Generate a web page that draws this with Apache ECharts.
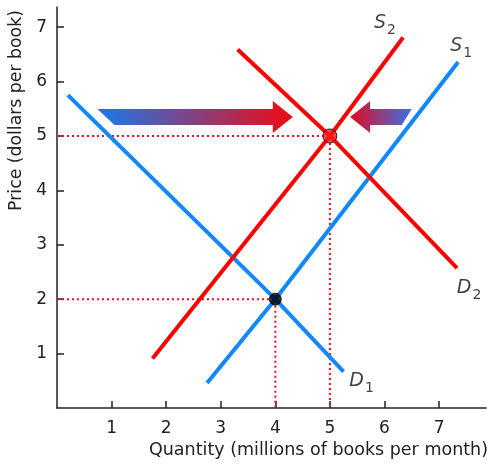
<!DOCTYPE html>
<html><head><meta charset="utf-8">
<script src="https://cdn.jsdelivr.net/npm/echarts@6/dist/echarts.min.js"></script>
<style>html,body{margin:0;padding:0;background:#fff}#c{width:487px;height:466px}</style>
</head><body><div id="c"></div>
<script>
// Data (x = millions of books per month, y = dollars per book)
const D1 = [[0.2, 5.75], [4, 2], [5.25, 0.67]];
const S1 = [[2.75, 0.46], [4, 2], [7.35, 6.36]];
const S2 = [[1.75, 0.91], [5, 5], [6.34, 6.81]];
const D2 = [[3.31, 6.59], [5, 5], [7.33, 2.57]];
const eqOld = [4, 2];
const eqNew = [5, 5];
// arrows: [tail x, tip x, y]
const arrowRight = [0.74, 4.32, 5.35];
const arrowLeft = [6.5, 5.37, 5.35];
const xTicks = [1, 2, 3, 4, 5, 6, 7];
const yTicks = [1, 2, 3, 4, 5, 6, 7];

const BLUE = '#1188ff', RED = '#ff0000';
const FONT = 'DejaVu Sans';
const chart = echarts.init(document.getElementById('c'));

function lineSeries(data, color) {
  return { type: 'line', data, symbol: 'none', lineStyle: { color, width: 4 }, z: 3, animation: false };
}
function guide(p) {
  return { type: 'line', data: [[0, p[1]], p, [p[0], 0]], symbol: 'none', z: 1, animation: false,
    lineStyle: { color: '#f01020', width: 2, type: [2, 3] } };
}
function subLabel(name, sub, pt, offset) {
  return { type: 'scatter', data: [pt], symbolSize: 0, z: 6, animation: false, silent: true,
    label: { show: true, position: 'inside', offset,
      formatter: '{m|' + name + '}{s|' + sub + '}',
      rich: { m: { fontFamily: FONT, fontStyle: 'italic', fontSize: 19, color: '#111' },
              s: { fontFamily: FONT, fontSize: 14, color: '#111', padding: [14, 0, 0, 1] } } } };
}
function arrowSeries(a, pointRight, stops) {
  return { type: 'custom', coordinateSystem: 'cartesian2d', z: 4, animation: false,
    data: [a], encode: { x: [0, 1], y: 2 },
    renderItem: function (params, api) {
      const t = api.coord([api.value(0), api.value(2)]);
      const h = api.coord([api.value(1), api.value(2)]);
      const yc = t[1], x0 = t[0], x1 = h[0];
      let pts;
      if (pointRight) {
        pts = [[x0, yc - 8], [x1 - 20, yc - 8], [x1 - 20, yc - 16], [x1, yc], [x1 - 20, yc + 16], [x1 - 20, yc + 8], [x0 + 17, yc + 8]];
      } else {
        pts = [[x1, yc], [x1 + 20, yc - 16], [x1 + 20, yc - 8], [x0, yc - 8], [x0 - 10, yc + 8], [x1 + 20, yc + 8], [x1 + 20, yc + 16]];
      }
      return { type: 'polygon', shape: { points: pts },
        style: { fill: new echarts.graphic.LinearGradient(0, 0, 1, 0, stops) } };
    } };
}

const axisCommon = {
  type: 'value', min: 0, interval: 1,
  axisLine: { show: true, lineStyle: { color: '#222', width: 1.5 } },
  axisTick: { show: true, inside: true, length: 7, lineStyle: { color: '#222', width: 1.5 } },
  splitLine: { show: false },
  axisLabel: { fontFamily: FONT, fontSize: 17, color: '#222', showMaxLabel: false, showMinLabel: false }
};

chart.setOption({
  animation: false,
  grid: { left: 57, top: 7, right: 1, bottom: 58, outerBoundsMode: 'none', containLabel: false },
  xAxis: Object.assign({}, axisCommon, {
    max: 7.86,
    name: 'Quantity (millions of books per month)', nameLocation: 'middle', nameGap: 33,
    nameTextStyle: { fontFamily: FONT, fontSize: 17.5, color: '#222', padding: [0, 0, 0, 94] },
    axisLabel: Object.assign({}, axisCommon.axisLabel, { margin: 12,
      formatter: v => xTicks.includes(v) ? String(v) : '' })
  }),
  yAxis: Object.assign({}, axisCommon, {
    max: 7.37,
    name: 'Price (dollars per book)', nameLocation: 'middle', nameGap: 27, nameRotate: 90,
    nameTextStyle: { fontFamily: FONT, fontSize: 17.3, color: '#222', padding: [0, 0, 0, 194] },
    axisLabel: Object.assign({}, axisCommon.axisLabel, { margin: 10,
      formatter: v => yTicks.includes(v) ? String(v) : '' })
  }),
  series: [
    guide(eqNew), guide(eqOld),
    lineSeries(D1, BLUE), lineSeries(S1, BLUE), lineSeries(S2, RED), lineSeries(D2, RED),
    arrowSeries(arrowRight, true, [{ offset: 0, color: '#1a78ec' }, { offset: 1, color: '#f00a12' }]),
    arrowSeries(arrowLeft, false, [{ offset: 0, color: '#e00c22' }, { offset: 1, color: '#3a72e4' }]),
    { type: 'scatter', data: [eqOld], symbolSize: 12, z: 5, animation: false,
      itemStyle: { color: '#000', borderColor: '#000', borderWidth: 1 } },
    { type: 'scatter', data: [eqNew], symbolSize: 14, z: 5, animation: false,
      itemStyle: { color: '#ff1a1a', borderColor: '#000', borderWidth: 1 } },
    subLabel('S', '2', S2[S2.length - 1], [-18, -14]),
    subLabel('S', '1', S1[S1.length - 1], [3, -16]),
    subLabel('D', '1', D1[D1.length - 1], [18, 10]),
    subLabel('D', '2', D2[D2.length - 1], [12, 20])
  ]
});
</script></body></html>
